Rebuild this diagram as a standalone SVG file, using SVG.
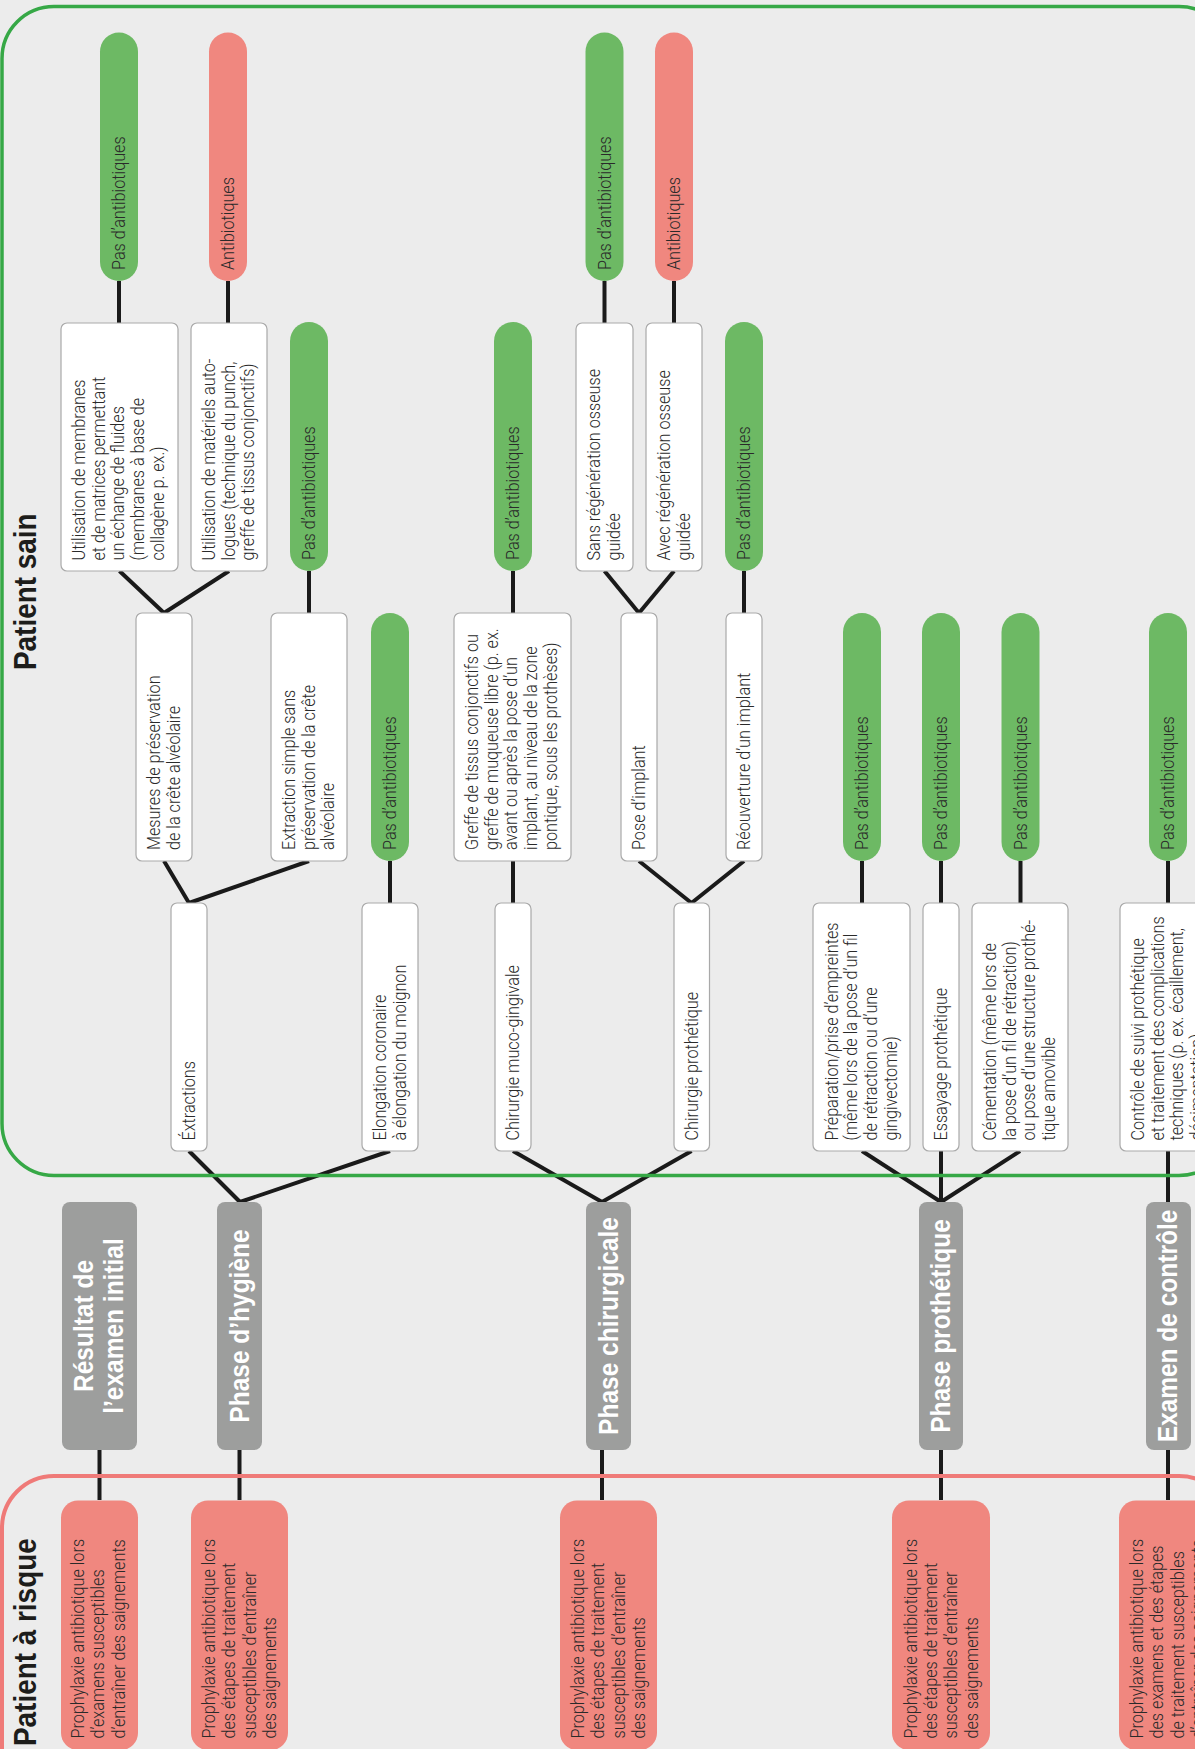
<svg xmlns="http://www.w3.org/2000/svg" width="1195" height="1749" viewBox="0 0 1195 1749">
<defs>
<style>
.w{fill:#ffffff;stroke:#a9a9a9;stroke-width:1.2}
.g{fill:#6db964}
.r{fill:#f0877f}
.gr{fill:#9d9e9d}
.t{font-family:Roboto,"Liberation Sans",sans-serif;font-weight:300;font-size:18px;fill:#2a2a2a}
.h{font-family:"Liberation Sans",Arial,sans-serif;font-weight:700;font-size:28px;fill:#ffffff}
.pt{font-family:"Liberation Sans",Arial,sans-serif;font-weight:700;font-size:31px;fill:#1d1d1b}
.c{stroke:#1a1a1a;stroke-width:4;fill:none;stroke-linecap:butt}
.fg{fill:none;stroke:#36a846;stroke-width:3.5}
.fr{fill:none;stroke:#ef7a78;stroke-width:4}
</style>
</defs>
<rect width="1195" height="1749" fill="#ececec"/>

<g id="connectors">
<path class="c" d="M119 281V323"/>
<path class="c" d="M228 281V323"/>
<path class="c" d="M119.5 571L164 613"/>
<path class="c" d="M229 571L164 613"/>
<path class="c" d="M309 571V613"/>
<path class="c" d="M164 861L189 903"/>
<path class="c" d="M309 861L189 903"/>
<path class="c" d="M390 861V903"/>
<path class="c" d="M189 1151L240 1202"/>
<path class="c" d="M390 1151L240 1202"/>
<path class="c" d="M99.5 1450V1500"/>
<path class="c" d="M239.5 1450V1500"/>
<path class="c" d="M604.5 281V323"/>
<path class="c" d="M674 281V323"/>
<path class="c" d="M513 571V613"/>
<path class="c" d="M604.5 571L639 613"/>
<path class="c" d="M674 571L639 613"/>
<path class="c" d="M744 571V613"/>
<path class="c" d="M513 861V903"/>
<path class="c" d="M639 861L691.5 903"/>
<path class="c" d="M744 861L691.5 903"/>
<path class="c" d="M513 1151L602 1202"/>
<path class="c" d="M691.5 1151L602 1202"/>
<path class="c" d="M602 1450V1500"/>
<path class="c" d="M862 861V903"/>
<path class="c" d="M941 861V903"/>
<path class="c" d="M1020.5 861V903"/>
<path class="c" d="M1168 861V903"/>
<path class="c" d="M862 1151L941 1202"/>
<path class="c" d="M941 1151V1202"/>
<path class="c" d="M1020 1151L941 1202"/>
<path class="c" d="M1168 1151V1202"/>
<path class="c" d="M941 1450V1500"/>
<path class="c" d="M1168 1450V1500"/>
</g>

<g id="patient-sain">
<rect class="fg" x="2" y="6.5" width="1229" height="1169" rx="52"/>
<text class="pt" transform="translate(36,670) rotate(-90) scale(0.9,1)">Patient sain</text>
</g>
<g id="patient-risque">
<rect class="fr" x="2" y="1476" width="1229" height="400" rx="52"/>
<text class="pt" transform="translate(36,1746) rotate(-90) scale(0.9,1)">Patient à risque</text>
</g>

<!-- top row pills -->
<g id="pill-1"><rect class="g" x="100" y="32.5" width="38" height="248.5" rx="19"/>
<text class="t" transform="translate(125,270) rotate(-90) scale(0.9,1)">Pas d’antibiotiques</text></g>
<g id="pill-2"><rect class="r" x="209" y="32.5" width="38" height="248.5" rx="19"/>
<text class="t" transform="translate(234,270) rotate(-90) scale(0.9,1)">Antibiotiques</text></g>
<g id="pill-5"><rect class="g" x="585.5" y="32.5" width="38" height="248.5" rx="19"/>
<text class="t" transform="translate(610.5,270) rotate(-90) scale(0.9,1)">Pas d’antibiotiques</text></g>
<g id="pill-6"><rect class="r" x="655" y="32.5" width="38" height="248.5" rx="19"/>
<text class="t" transform="translate(680,270) rotate(-90) scale(0.9,1)">Antibiotiques</text></g>

<!-- second row -->
<g id="box-membranes"><rect class="w" x="61" y="323" width="117" height="248" rx="6"/>
<text class="t" transform="translate(85,560.5) rotate(-90) scale(0.9,1)"><tspan x="0" y="0">Utilisation de membranes</tspan><tspan x="0" y="19.7">et de matrices permettant</tspan><tspan x="0" y="39.4">un échange de fluides</tspan><tspan x="0" y="59.1">(membranes à base de</tspan><tspan x="0" y="78.8">collagène p. ex.)</tspan></text></g>
<g id="box-autologues"><rect class="w" x="191" y="323" width="76" height="248" rx="6"/>
<text class="t" transform="translate(215,560.5) rotate(-90) scale(0.9,1)"><tspan x="0" y="0">Utilisation de matériels auto-</tspan><tspan x="0" y="19.7">logues (technique du punch,</tspan><tspan x="0" y="39.4">greffe de tissus conjonctifs)</tspan></text></g>
<g id="pill-3"><rect class="g" x="290" y="322" width="38" height="249" rx="19"/>
<text class="t" transform="translate(315,560) rotate(-90) scale(0.9,1)">Pas d’antibiotiques</text></g>
<g id="pill-7"><rect class="g" x="494" y="322" width="38" height="249" rx="19"/>
<text class="t" transform="translate(519,560) rotate(-90) scale(0.9,1)">Pas d’antibiotiques</text></g>
<g id="box-sans-rog"><rect class="w" x="576" y="323" width="57" height="248" rx="6"/>
<text class="t" transform="translate(600,560.5) rotate(-90) scale(0.9,1)"><tspan x="0" y="0">Sans régénération osseuse</tspan><tspan x="0" y="19.7">guidée</tspan></text></g>
<g id="box-avec-rog"><rect class="w" x="646" y="323" width="56" height="248" rx="6"/>
<text class="t" transform="translate(670,560.5) rotate(-90) scale(0.9,1)"><tspan x="0" y="0">Avec régénération osseuse</tspan><tspan x="0" y="19.7">guidée</tspan></text></g>
<g id="pill-8"><rect class="g" x="725" y="322" width="38" height="249" rx="19"/>
<text class="t" transform="translate(750,560) rotate(-90) scale(0.9,1)">Pas d’antibiotiques</text></g>

<!-- third row -->
<g id="box-mesures"><rect class="w" x="136" y="613" width="56" height="248" rx="6"/>
<text class="t" transform="translate(160,850) rotate(-90) scale(0.9,1)"><tspan x="0" y="0">Mesures de préservation</tspan><tspan x="0" y="19.7">de la crête alvéolaire</tspan></text></g>
<g id="box-extraction-simple"><rect class="w" x="271" y="613" width="76" height="248" rx="6"/>
<text class="t" transform="translate(295,850) rotate(-90) scale(0.9,1)"><tspan x="0" y="0">Extraction simple sans</tspan><tspan x="0" y="19.7">préservation de la crête</tspan><tspan x="0" y="39.4">alvéolaire</tspan></text></g>
<g id="pill-4"><rect class="g" x="371" y="613" width="38" height="248" rx="19"/>
<text class="t" transform="translate(396,850) rotate(-90) scale(0.9,1)">Pas d’antibiotiques</text></g>
<g id="box-greffe"><rect class="w" x="454" y="613" width="117" height="248" rx="6"/>
<text class="t" transform="translate(478,850) rotate(-90) scale(0.9,1)"><tspan x="0" y="0">Greffe de tissus conjonctifs ou</tspan><tspan x="0" y="19.7">greffe de muqueuse libre (p. ex.</tspan><tspan x="0" y="39.4">avant ou après la pose d’un</tspan><tspan x="0" y="59.1">implant, au niveau de la zone</tspan><tspan x="0" y="78.8">pontique, sous les prothèses)</tspan></text></g>
<g id="box-pose"><rect class="w" x="621" y="613" width="36" height="248" rx="6"/>
<text class="t" transform="translate(645,850) rotate(-90) scale(0.9,1)">Pose d’implant</text></g>
<g id="box-reouverture"><rect class="w" x="726" y="613" width="36" height="248" rx="6"/>
<text class="t" transform="translate(750,850) rotate(-90) scale(0.9,1)">Réouverture d’un implant</text></g>
<g id="pill-9"><rect class="g" x="843" y="613" width="38" height="248" rx="19"/>
<text class="t" transform="translate(868,850) rotate(-90) scale(0.9,1)">Pas d’antibiotiques</text></g>
<g id="pill-10"><rect class="g" x="922" y="613" width="38" height="248" rx="19"/>
<text class="t" transform="translate(947,850) rotate(-90) scale(0.9,1)">Pas d’antibiotiques</text></g>
<g id="pill-11"><rect class="g" x="1001.5" y="613" width="38" height="248" rx="19"/>
<text class="t" transform="translate(1026.5,850) rotate(-90) scale(0.9,1)">Pas d’antibiotiques</text></g>
<g id="pill-12"><rect class="g" x="1149" y="613" width="38" height="248" rx="19"/>
<text class="t" transform="translate(1174,850) rotate(-90) scale(0.9,1)">Pas d’antibiotiques</text></g>

<!-- fourth row -->
<g id="box-extractions"><rect class="w" x="171" y="903" width="36" height="248" rx="6"/>
<text class="t" transform="translate(195,1140.5) rotate(-90) scale(0.9,1)">Éxtractions</text></g>
<g id="box-elongation"><rect class="w" x="362" y="903" width="56" height="248" rx="6"/>
<text class="t" transform="translate(386,1140.5) rotate(-90) scale(0.9,1)"><tspan x="0" y="0">Elongation coronaire</tspan><tspan x="0" y="19.7">à élongation du moignon</tspan></text></g>
<g id="box-muco"><rect class="w" x="495" y="903" width="36" height="248" rx="6"/>
<text class="t" transform="translate(519,1140.5) rotate(-90) scale(0.9,1)">Chirurgie muco-gingivale</text></g>
<g id="box-chir-prot"><rect class="w" x="674" y="903" width="35.5" height="248" rx="6"/>
<text class="t" transform="translate(698,1140.5) rotate(-90) scale(0.9,1)">Chirurgie prothétique</text></g>
<g id="box-preparation"><rect class="w" x="813" y="903" width="97" height="248" rx="6"/>
<text class="t" transform="translate(837.5,1140.5) rotate(-90) scale(0.9,1)"><tspan x="0" y="0">Préparation/prise d’empreintes</tspan><tspan x="0" y="19.7">(même lors de la pose d’un fil</tspan><tspan x="0" y="39.4">de rétraction ou d’une</tspan><tspan x="0" y="59.1">gingivectomie)</tspan></text></g>
<g id="box-essayage"><rect class="w" x="923" y="903" width="36" height="248" rx="6"/>
<text class="t" transform="translate(947,1140.5) rotate(-90) scale(0.9,1)">Essayage prothétique</text></g>
<g id="box-cementation"><rect class="w" x="972" y="903" width="96" height="248" rx="6"/>
<text class="t" transform="translate(996,1140.5) rotate(-90) scale(0.9,1)"><tspan x="0" y="0">Cémentation (même lors de</tspan><tspan x="0" y="19.7">la pose d’un fil de rétraction)</tspan><tspan x="0" y="39.4">ou pose d’une structure prothé-</tspan><tspan x="0" y="59.1">tique amovible</tspan></text></g>
<g id="box-controle-suivi"><rect class="w" x="1120" y="903" width="97" height="248" rx="6"/>
<text class="t" transform="translate(1144,1140.5) rotate(-90) scale(0.9,1)"><tspan x="0" y="0">Contrôle de suivi prothétique</tspan><tspan x="0" y="19.7">et traitement des complications</tspan><tspan x="0" y="39.4">techniques (p. ex. écaillement,</tspan><tspan x="0" y="59.1">décimentation)</tspan></text></g>

<!-- phase row -->
<g id="phase-initial"><rect class="gr" x="62" y="1202" width="75" height="248" rx="8"/>
<text class="h" text-anchor="middle" transform="translate(93.3,1326) rotate(-90) scale(0.875,1)"><tspan x="0" y="0">Résultat de</tspan><tspan x="0" y="29.4">l’examen initial</tspan></text></g>
<g id="phase-hygiene"><rect class="gr" x="217" y="1202" width="45" height="248" rx="8"/>
<text class="h" text-anchor="middle" transform="translate(248.5,1326) rotate(-90) scale(0.875,1)">Phase d’hygiène</text></g>
<g id="phase-chirurgicale"><rect class="gr" x="586" y="1202" width="45" height="248" rx="8"/>
<text class="h" text-anchor="middle" transform="translate(617.5,1326) rotate(-90) scale(0.875,1)">Phase chirurgicale</text></g>
<g id="phase-prothetique"><rect class="gr" x="919" y="1202" width="44" height="248" rx="8"/>
<text class="h" text-anchor="middle" transform="translate(950,1326) rotate(-90) scale(0.875,1)">Phase prothétique</text></g>
<g id="examen-controle"><rect class="gr" x="1146" y="1202" width="45" height="248" rx="8"/>
<text class="h" text-anchor="middle" transform="translate(1177,1326) rotate(-90) scale(0.875,1)">Examen de contrôle</text></g>

<!-- risk row -->
<g id="risk-initial"><rect class="r" x="61" y="1500.5" width="77" height="249.5" rx="17"/>
<text class="t" transform="translate(84,1738.5) rotate(-90) scale(0.9,1)"><tspan x="0" y="0">Prophylaxie antibiotique lors</tspan><tspan x="0" y="20.5">d’examens susceptibles</tspan><tspan x="0" y="41">d’entraîner des saignements</tspan></text></g>
<g id="risk-hygiene"><rect class="r" x="191" y="1500.5" width="97" height="249.5" rx="17"/>
<text class="t" transform="translate(215,1738.5) rotate(-90) scale(0.9,1)"><tspan x="0" y="0">Prophylaxie antibiotique lors</tspan><tspan x="0" y="20.5">des étapes de traitement</tspan><tspan x="0" y="41">susceptibles d’entraîner</tspan><tspan x="0" y="61.5">des saignements</tspan></text></g>
<g id="risk-chirurgicale"><rect class="r" x="560" y="1500.5" width="97" height="249.5" rx="17"/>
<text class="t" transform="translate(584,1738.5) rotate(-90) scale(0.9,1)"><tspan x="0" y="0">Prophylaxie antibiotique lors</tspan><tspan x="0" y="20.5">des étapes de traitement</tspan><tspan x="0" y="41">susceptibles d’entraîner</tspan><tspan x="0" y="61.5">des saignements</tspan></text></g>
<g id="risk-prothetique"><rect class="r" x="892" y="1500.5" width="98" height="249.5" rx="17"/>
<text class="t" transform="translate(916.5,1738.5) rotate(-90) scale(0.9,1)"><tspan x="0" y="0">Prophylaxie antibiotique lors</tspan><tspan x="0" y="20.5">des étapes de traitement</tspan><tspan x="0" y="41">susceptibles d’entraîner</tspan><tspan x="0" y="61.5">des saignements</tspan></text></g>
<g id="risk-controle"><rect class="r" x="1119" y="1500.5" width="98" height="249.5" rx="17"/>
<text class="t" transform="translate(1143,1738.5) rotate(-90) scale(0.9,1)"><tspan x="0" y="0">Prophylaxie antibiotique lors</tspan><tspan x="0" y="20.5">des examens et des étapes</tspan><tspan x="0" y="41">de traitement susceptibles</tspan><tspan x="0" y="61.5">d’entraîner des saignements</tspan></text></g>
</svg>
